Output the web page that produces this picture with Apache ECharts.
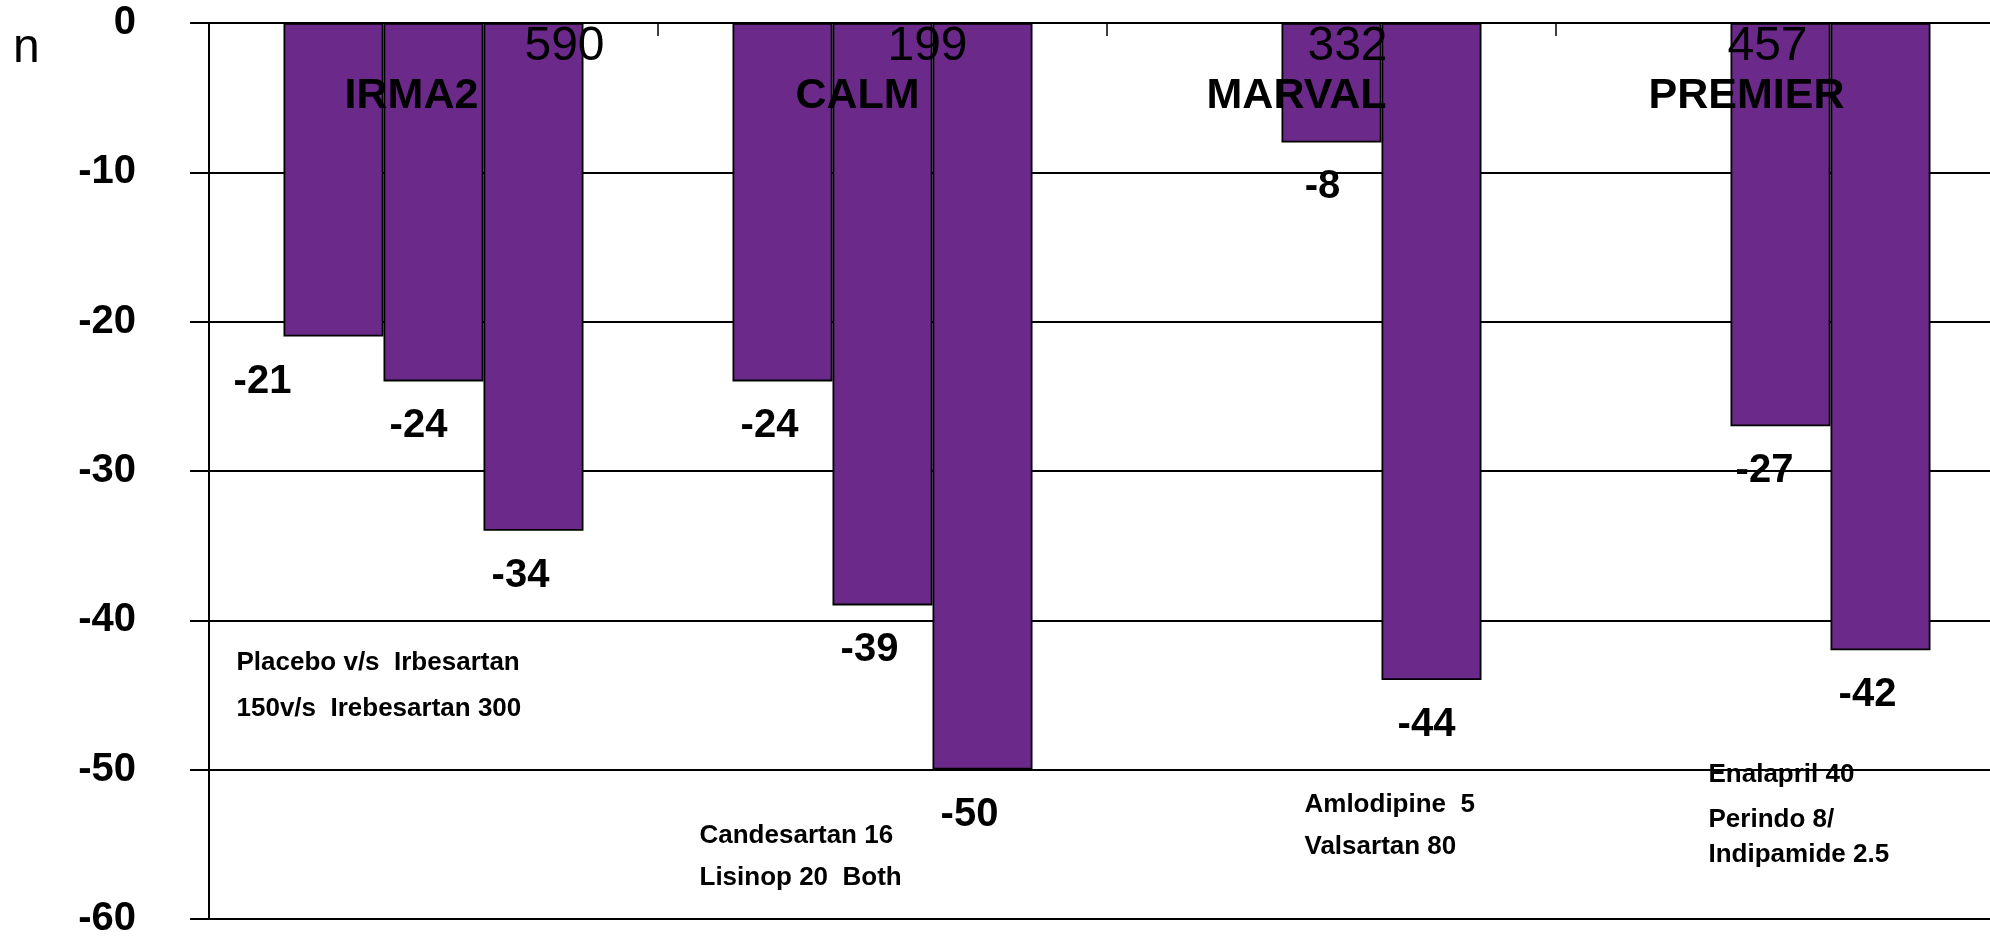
<!DOCTYPE html>
<html>
<head>
<meta charset="utf-8">
<title>Proteinuria reduction by trial</title>
<script src="https://cdn.jsdelivr.net/npm/echarts@6/dist/echarts.min.js"></script>
<style>
  html, body { margin: 0; padding: 0; background: #ffffff; }
  #chart { width: 1990px; height: 939px; }
</style>
</head>
<body>
<div id="chart"></div>
<script>
// Trials, patient counts and % change for up to three treatment arms per trial
const trials = ['IRMA2', 'CALM', 'MARVAL', 'PREMIER'];
const sampleSizes = ['590', '199', '332', '457'];
const armA = [-21, -24, null, null];
const armB = [-24, -39, -8, -27];
const armC = [-34, -50, -44, -42];
const yTickValues = [0, -10, -20, -30, -40, -50, -60];
const regimenNotes = [
  ['Placebo v/s  Irbesartan', '150v/s  Irebesartan 300'],
  ['Candesartan 16', 'Lisinop 20  Both'],
  ['Amlodipine  5', 'Valsartan 80'],
  ['Enalapril 40', 'Perindo 8/', 'Indipamide 2.5']
];

const FONT = '"Liberation Sans", Arial, sans-serif';
const PURPLE = '#6B2A8A';

// horizontal nudges (px) for individual value labels, keyed by series then trial
const labelShift = [
  [-58, 0, 0, 0],
  [-2, 0, 4, -3],
  [0, 0, 8, 0]
];

function buildSeries(values, idx) {
  return {
    type: 'bar',
    name: 'arm' + idx,
    barWidth: 100,
    barGap: '0%',
    itemStyle: { color: PURPLE, borderColor: '#000', borderWidth: 1.8 },
    label: {
      show: true,
      position: 'bottom',
      distance: 25,
      offset: [-13, 0],
      color: '#000',
      fontFamily: FONT,
      fontWeight: 'bold',
      fontSize: 40,
      formatter: p => String(p.value)
    },
    data: values.map((v, i) => v === null ? null : {
      value: v,
      label: { offset: [-13 + labelShift[idx][i], 0] }
    })
  };
}

const chart = echarts.init(document.getElementById('chart'), null, { renderer: 'canvas' });

chart.setOption({
  animation: false,
  backgroundColor: '#ffffff',
  // the plot runs a little past the right edge of the canvas
  grid: {
    left: 209, top: 23, width: 1796, height: 896,
    containLabel: false,
    outerBoundsMode: 'none'
  },
  xAxis: {
    type: 'category',
    data: trials,
    position: 'top',
    axisLine: { show: true, lineStyle: { color: '#000', width: 2 } },
    axisTick: { show: true, inside: true, length: 13, lineStyle: { color: '#000', width: 1.5 } },
    axisLabel: { show: false },
    splitLine: { show: false }
  },
  yAxis: {
    type: 'value',
    min: yTickValues[yTickValues.length - 1],
    max: yTickValues[0],
    interval: 10,
    axisLine: { show: true, lineStyle: { color: '#000', width: 2 } },
    axisTick: { show: true, inside: false, length: 19, lineStyle: { color: '#000', width: 2 } },
    axisLabel: {
      margin: 73,
      color: '#000',
      fontFamily: FONT,
      fontWeight: 'bold',
      fontSize: 40
    },
    splitLine: { show: true, lineStyle: { color: '#000', width: 2 } }
  },
  series: [buildSeries(armA, 0), buildSeries(armB, 1), buildSeries(armC, 2)]
});

// Annotations anchored to each trial's category centre
const titleDx = [-22, -25, -35, -34];
const countDx = [131, 45, 16, -13];
const noteDx = [-197, -183, -27, -72];
const noteTop = [-42.7, -54.3, -52.2, -50.2];
const noteGaps = [[46], [42], [42], [45, 35]];

const topPx = chart.convertToPixel({ yAxisIndex: 0 }, 0);
const graphics = [];

function text(str, x, y, font, align) {
  graphics.push({
    type: 'text',
    z: 100,
    style: {
      text: str, x: x, y: y, font: font, fill: '#000',
      align: align, verticalAlign: 'middle',
      textAlign: align, textVerticalAlign: 'middle'
    }
  });
}

text('n', 13, topPx + 26, '48px ' + FONT, 'left');

trials.forEach((name, i) => {
  const cx = chart.convertToPixel({ xAxisIndex: 0 }, name);
  text(sampleSizes[i], cx + countDx[i], topPx + 24, '48px ' + FONT, 'center');
  text(name, cx + titleDx[i], topPx + 73, 'bold 43px ' + FONT, 'center');
  let y = chart.convertToPixel({ yAxisIndex: 0 }, noteTop[i]);
  regimenNotes[i].forEach((line, j) => {
    if (j > 0) y += noteGaps[i][j - 1];
    text(line, cx + noteDx[i], y + 2, 'bold 26px ' + FONT, 'left');
  });
});

chart.setOption({ graphic: graphics });
</script>
</body>
</html>
